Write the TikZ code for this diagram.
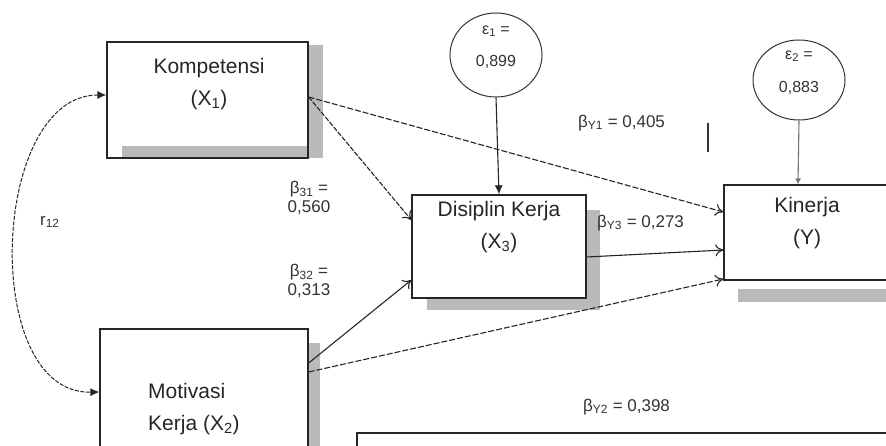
\documentclass[tikz,border=0pt]{standalone}
\usepackage{fontspec}
\setmainfont{Liberation Sans}
\usetikzlibrary{arrows.meta,shapes.geometric}
\begin{document}
\begin{tikzpicture}[x=1pt,y=-1pt,
  box/.style={draw=black!85, line width=1.3pt, fill=white, inner sep=0pt},
  shade/.style={fill=black!27},
  lbl/.style={font=\fontsize{17}{19}\selectfont, inner sep=0pt, text=black!80},
  boxtxt/.style={font=\fontsize{21}{32}\selectfont, align=center, inner sep=0pt, text=black!85},
  err/.style={draw=black!80, line width=1pt, ellipse, inner sep=0pt},
  errtxt/.style={font=\fontsize{16}{18}\selectfont, inner sep=0pt, text=black!80},
  conn/.style={line width=1.1pt, draw=black!85, -{To[length=8pt,width=12pt]}},
  dconn/.style={conn, dash pattern=on 6pt off 2pt},
  solidtip/.style={line width=1.1pt, draw=black!85, -{Latex[length=9pt,width=8pt]}}
]
\useasboundingbox (0,0) rectangle (886,446);
\clip (0,0) rectangle (886,446);
\fill[white] (0,0) rectangle (886,446);

% shadows behind boxes
\fill[shade] (308,45) rectangle (323,158);
\fill[shade] (586,210) rectangle (600,310);
\fill[shade] (427,298) rectangle (600,310);
\fill[shade] (738,289) rectangle (886,302);
\fill[shade] (308,343) rectangle (320,446);

% boxes
\node[box, minimum width=201pt, minimum height=116pt] (komp) at (207.5,100) {};
\fill[shade] (122,146) rectangle (307,157);
\node[box, minimum width=174pt, minimum height=103pt] (disc) at (499,246.5) {};
\node[box, minimum width=168pt, minimum height=95pt] (kin) at (808,232.5) {};
\node[box, minimum width=208pt, minimum height=131pt] (mot) at (204,394.5) {};
\node[draw=black!85, line width=1.2pt, minimum width=543pt, minimum height=27pt, inner sep=0pt] (bot) at (628.5,446.5) {};

% box texts
\node[boxtxt] (kompt) at (209,84) {Kompetensi\\(X\textsubscript{1})};
\node[boxtxt] (disct) at (499,227) {Disiplin Kerja\\(X\textsubscript{3})};
\node[boxtxt] (kint) at (807,223) {Kinerja\\(Y)};
\node[boxtxt, align=left, anchor=west] (mott) at (148,409) {Motivasi\\Kerja (X\textsubscript{2})};

% error circles
\node[err, minimum width=92pt, minimum height=84pt] (e1) at (496,55) {};
\node[errtxt] (e1a) at (496,31) {ε\textsubscript{1} =};
\node[errtxt] (e1b) at (496,62) {0,899};
\node[err, minimum width=92pt, minimum height=80pt] (e2) at (799,80) {};
\node[errtxt] (e2a) at (799,56) {ε\textsubscript{2} =};
\node[errtxt] (e2b) at (799,88) {0,883};

% connectors
\draw[solidtip] (e1.south) -- (disc.north);
\draw[line width=1.1pt, draw=black!55, -{Latex[length=6pt,width=6pt]}] (e2.south) -- ([xshift=-10pt]kin.north);
\draw[conn, dash pattern=on 5pt off 1.5pt] ([yshift=3pt]komp.east) -- ([yshift=26.5pt]disc.west);
\draw[dconn] ([yshift=3pt]komp.east) -- ([yshift=20.5pt]kin.west);
\draw[conn] ([yshift=-10.5pt]disc.east) -- ([yshift=-17.5pt]kin.west);
\draw[conn] ([yshift=31.5pt]mot.east) -- ([yshift=-33.5pt]disc.west);
\draw[dconn] ([yshift=22.5pt]mot.east) -- ([yshift=-46.5pt]kin.west);
\draw[line width=1pt, draw=black!85, dash pattern=on 4pt off 1.5pt, {Latex[length=9pt,width=8pt]}-{Latex[length=9pt,width=8pt]}]
  ([yshift=5pt]komp.west) .. controls (-10,95) and (-20,394.5) .. ([yshift=2.5pt]mot.west);

% stray mark
\draw[line width=1.2pt, black!80] (708,123) -- (708,152);

% labels
\node[lbl, anchor=west] (r12) at (40,222) {r\textsubscript{12}};
\node[lbl, align=center] (b31) at (309,198) {β\textsubscript{31} =\\0,560};
\node[lbl, align=center] (b32) at (309,281) {β\textsubscript{32} =\\0,313};
\node[lbl, anchor=west] (by1) at (578,123) {β\textsubscript{Y1} = 0,405};
\node[lbl, anchor=west] (by3) at (597,223) {β\textsubscript{Y3} = 0,273};
\node[lbl, anchor=west] (by2) at (583,407) {β\textsubscript{Y2} = 0,398};
\end{tikzpicture}
\end{document}
